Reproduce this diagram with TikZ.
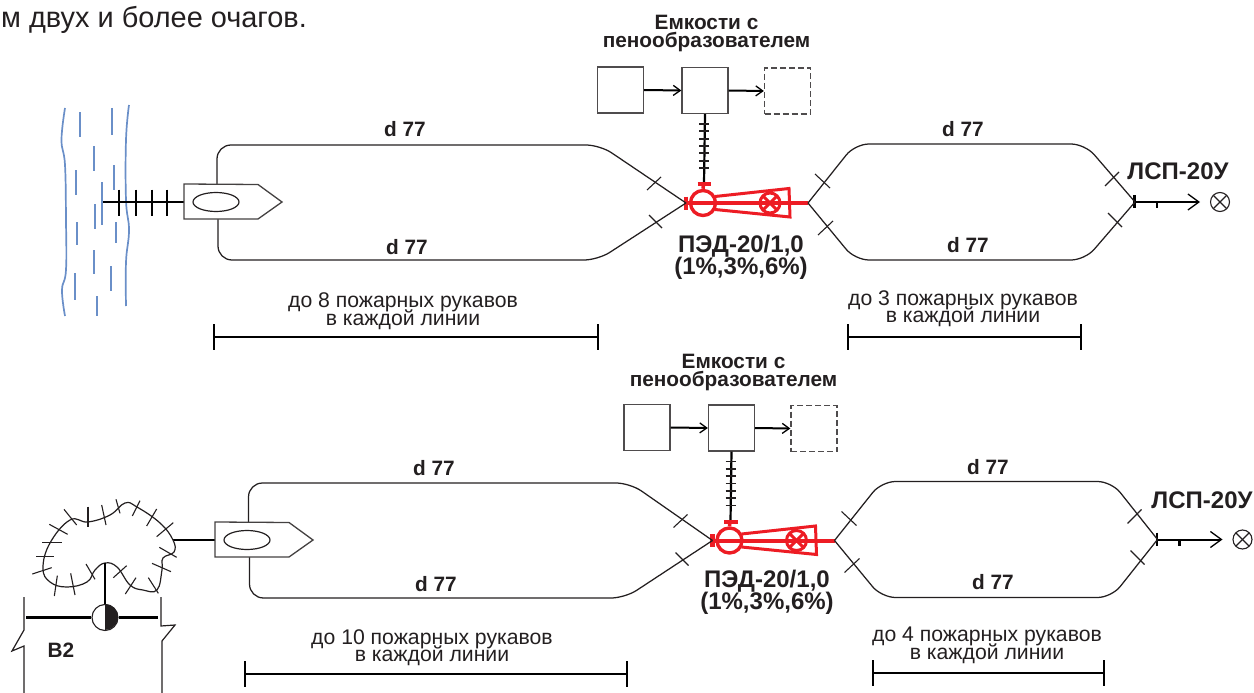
\documentclass[tikz,border=0pt]{standalone}
\usepackage{fontspec}
\setmainfont{Liberation Sans}
\usetikzlibrary{arrows.meta,calc,shapes.geometric}
\definecolor{ink}{HTML}{231F20}
\definecolor{foamred}{HTML}{ED1C24}
\definecolor{waterblue}{HTML}{6A8FC8}
\newcommand{\tightlines}{\lineskiplimit=-100pt\relax}
\tikzset{
  hose/.style={draw=ink,line width=1.25pt,rounded corners=14pt},
  tickmark/.style={draw=ink,line width=1.1pt},
  bline/.style={draw=black,line width=2.2pt},
  tank/.style={draw=ink!80,line width=1.3pt,minimum size=46pt,inner sep=0pt,fill=white},
  tankd/.style={tank,dashed,dash pattern=on 6pt off 3pt},
  feed/.style={draw=black,line width=2pt,-{Straight Barb[length=7pt,width=10pt,line width=1.3pt]}},
  feedout/.style={draw=black,line width=2pt,-{Straight Barb[length=11pt,width=16pt,line width=1.3pt]}},
  redl/.style={draw=foamred,line width=3pt},
  shiphull/.style={draw=ink!85,line width=1.3pt,fill=white},
  lab/.style={font=\bfseries\fontsize{20.8}{18}\selectfont\tightlines,text=ink,inner sep=0pt,align=center},
  labbig/.style={font=\bfseries\fontsize{24}{22.5}\selectfont\tightlines,text=ink,inner sep=0pt,align=center},
  note/.style={font=\fontsize{21.2}{17.5}\selectfont\tightlines,text=ink,inner sep=0pt,align=center},
  water/.style={draw=waterblue,line width=1.7pt},
}
\newcommand{\foamunit}[4]{%
 \begin{scope}[shift={(#2,#3)}]
  % tanks
  \node[tank] (#1a) at (620.5,90) {};
  \node[tank] (#1b) at (705,90.5) {};
  \node[tankd] (#1c) at (787.5,91) {};
  \draw[feed] (#1a.east) -- (#1b.west);
  \draw[feed] (#1b.east) -- (#1c.west);
  % feed line to the inductor
  \coordinate (#1t) at (704,184);
  \draw[bline] (#1b.south) -- (#1t);
  \foreach \yy in {124,131.3,138.7,146,153.3,160.7,168}
    \draw[draw=ink,line width=1.7pt] (699,\yy) -- (709,\yy);
  % inductor
  \node[draw=foamred,line width=3.4pt,circle,minimum size=25pt,inner sep=0pt] (#1p) at (703,203) {};
  \node[draw=foamred,line width=3pt,circle,minimum size=20pt,inner sep=0pt] (#1v) at (770,203) {};
  \coordinate (#1l) at (686,203);
  \coordinate (#1r) at (808,203);
  \draw[redl] (715,196.5) -- (789,188.5) -- (790,217) -- (715,209.5);
  \draw[redl,line width=4pt] (#1l) -- (#1r);
  \draw[redl] ($(#1v)+(-6.5,-6.5)$) -- ($(#1v)+(6.5,6.5)$);
  \draw[redl] ($(#1v)+(-6.5,6.5)$) -- ($(#1v)+(6.5,-6.5)$);
  \draw[redl,line width=4.5pt] (686,196.5) -- (686,209.5);
  \draw[redl,line width=4pt] (697.5,184) -- (711,184);
  \draw[redl,line width=3.5pt] (703.5,184) -- (#1p.north);
  % outlet branches and branch pipe
  \begin{scope}[shift={(#4,0)}]
  \coordinate (#1j) at (1135,202);
  \draw[tickmark] (1105,186) -- (1119,172);
  \draw[tickmark] (1108,213) -- (1122,227);
  \node[draw=ink,line width=1.1pt,circle,minimum size=19pt,inner sep=0pt] (#1o) at (1220,202) {};
  \draw[ink,line width=1.1pt] ($(#1o)+(-6.5,-6.5)$) -- ($(#1o)+(6.5,6.5)$);
  \draw[ink,line width=1.1pt] ($(#1o)+(-6.5,6.5)$) -- ($(#1o)+(6.5,-6.5)$);
  \coordinate (#1e) at (1200,202);
  \draw[feedout] (#1j) -- (#1e);
  \draw[bline] (1134.5,195) -- (1134.5,208);
  \draw[bline] (1157,202) -- (1157,208);
  \end{scope}
  \draw[hose] (#1r) -- (855,144) -- (1085,144) -- (#1j);
  \draw[hose] (#1r) -- (855,260) -- (1085,260) -- (#1j);
  \draw[tickmark] (815,174) -- (830,188);
  \draw[tickmark] (818,235) -- (833,221);
  % inlet ticks
  \draw[tickmark] (647,190) -- (661,177);
  \draw[tickmark] (649,215) -- (662,228);
 \end{scope}}
\begin{document}
\begin{tikzpicture}[x=1pt,y=-1pt]
\useasboundingbox (0,0) rectangle (1254,693);
\node[font=\fontsize{23.5}{24}\selectfont,text=ink,inner sep=0pt,anchor=base west,scale=1.23] (intro) at (1,28) {м двух и более очагов.};

% ---------- upper scheme ----------
\foreach \xa/\xb/\ya/\yb in {
  80/80/112/137, 112/112/108/135, 94/94/146/171, 76/76/170/195, 114/114/165/190,
  102/102/182/225, 95/95/204/229, 77/77/222/245, 116/116/222/243, 94/94/250/274,
  111/111/266/291, 75/75/273/300, 97/97/296/316}
  \draw[water] (\xa,\ya) -- (\xb,\yb);
\draw[water] plot[smooth,tension=0.7] coordinates {(65,108) (61.5,140) (65,165) (66,220) (66,270) (62,290) (65,316)};
\draw[water] plot[smooth,tension=0.7] coordinates {(129,105) (126,140) (126,200) (129,230) (126,262) (126,306)};

\coordinate (us) at (184,202);
\coordinate (uw) at (103,202);
\draw[bline] (uw) -- (us);
\foreach \xx in {119,136,152,167} \draw[bline] (\xx,189.5) -- (\xx,216);

\foamunit{u}{0}{0}{0}
\coordinate (ush) at (217,184);
\coordinate (usl) at (218,219);
\draw[hose] (ush) -- (217,145) -- (600,145) -- (ul);
\draw[hose] (usl) -- (218,260) -- (598,260) -- (ul);
\draw[shiphull] (184,184) -- (258,184.5) -- (282,202) -- (258,219) -- (184,219) -- cycle;
\node[draw=ink,line width=1.2pt,ellipse,minimum width=46pt,minimum height=19pt,inner sep=0pt] (ue) at (216,202) {};

\node[lab] (l1) at (405,129) {d 77};
\node[lab] (l2) at (407,247) {d 77};
\node[lab] (l3) at (963,129) {d 77};
\node[lab] (l4) at (968,245) {d 77};
\node[lab] (ut) at (706.5,34) {Емкости с\\пенообразователем};
\node[labbig] (up) at (741,257.5) {ПЭД-20/1,0\\(1\%,3\%,6\%)};
\node[labbig] (ulsp) at (1178,171) {ЛСП-20У};

\node[note] (n1) at (403,311) {до 8 пожарных рукавов\\в каждой линии};
\node[note] (n3) at (963,308.5) {до 3 пожарных рукавов\\в каждой линии};
\coordinate (d1a) at (214,337); \coordinate (d1b) at (598,337);
\coordinate (d2a) at (848,337); \coordinate (d2b) at (1081,337);
\foreach \p/\q in {d1a/d1b,d2a/d2b}{
  \draw[bline] (\p) -- (\q);
  \draw[bline] ($(\p)+(0,-13)$) -- ($(\p)+(0,13)$);
  \draw[bline] ($(\q)+(0,-13)$) -- ($(\q)+(0,13)$);
}

% ---------- lower scheme ----------
\foamunit{w}{26.5}{337.5}{-4}
\coordinate (lsh) at (248.5,522);
\coordinate (lsl) at (249.5,557);
\draw[hose] (lsh) -- (248.5,483) -- (630,483) -- (wl);
\draw[hose] (lsl) -- (249.5,598) -- (625,598) -- (wl);
\coordinate (fs) at (173,540);
\coordinate (ss) at (215,540);
\draw[bline] (fs) -- (ss);
\draw[shiphull] (215,522) -- (289,522.5) -- (313,540) -- (289,557) -- (215,557) -- cycle;
\node[draw=ink,line width=1.2pt,ellipse,minimum width=46pt,minimum height=19pt,inner sep=0pt] (le) at (247,540) {};

% fire contour
\draw[ink,line width=1.2pt] plot[smooth cycle,tension=0.7] coordinates {
 (173,540) (174,552) (163,558) (162,570) (157,590) (143,590) (130,585) (117,567) (105,563)
 (95,570) (87,582) (67,587) (50,582) (43,568) (50,543) (70,520) (88,522) (110,515)
 (125,503) (137,507) (160,523)};
\foreach \xa/\ya/\xb/\yb in {
 192/88/230/135, 148/133/203/163, 127/188/185/188, 108/230/163/230, 97/282/155/263,
 172/287/163/348, 212/280/225/345, 258/252/285/298, 380/257/340/293, 408/293/376/342,
 445/293/475/340, 456/250/513/275, 478/202/530/232, 470/170/520/128, 440/138/470/87,
 397/108/420/62, 348/58/360/100, 305/75/318/135, 264/80/264/140}
 \draw[ink,line width=1.1pt] ({\xa/3},{480+\ya/3}) -- ({\xb/3},{480+\yb/3});

% hydrant and walls
\node[draw=ink,line width=1.1pt,circle,minimum size=26pt,inner sep=0pt,fill=white] (hy) at (105,617.5) {};
\fill[ink] (hy.north) arc[start angle=90,end angle=-90,radius=13pt] -- cycle;
\coordinate (ft) at (105,563);
\coordinate (hl) at (26,617.5);
\coordinate (hr) at (158,617.5);
\draw[bline] (ft) -- (hy.north);
\draw[bline] (hl) -- (hy.west);
\draw[bline] (hy.east) -- (hr);
\draw[ink,line width=1.2pt] (24,597) -- (24,630) -- (12,651) -- (24,646) -- (24,693);
\draw[ink,line width=1.2pt] (161,597) -- (161,626) -- (175,625) -- (162,641) -- (162,693);
\node[lab] (b2) at (61,650) {В2};

\node[lab] (l5) at (434,468) {d 77};
\node[lab] (l6) at (436,584) {d 77};
\node[lab] (l7) at (988,467) {d 77};
\node[lab] (l8) at (993,582) {d 77};
\node[lab] (lt) at (733.5,373) {Емкости с\\пенообразователем};
\node[labbig] (lp) at (767,592.5) {ПЭД-20/1,0\\(1\%,3\%,6\%)};
\node[labbig] (llsp) at (1202,500) {ЛСП-20У};

\node[note] (n5) at (432,647.5) {до 10 пожарных рукавов\\в каждой линии};
\node[note] (n7) at (987,645.5) {до 4 пожарных рукавов\\в каждой линии};
\coordinate (d3a) at (245,674); \coordinate (d3b) at (627,674);
\coordinate (d4a) at (873,673); \coordinate (d4b) at (1104,673);
\foreach \p/\q in {d3a/d3b,d4a/d4b}{
  \draw[bline] (\p) -- (\q);
  \draw[bline] ($(\p)+(0,-13)$) -- ($(\p)+(0,13)$);
  \draw[bline] ($(\q)+(0,-13)$) -- ($(\q)+(0,13)$);
}
\end{tikzpicture}
\end{document}
